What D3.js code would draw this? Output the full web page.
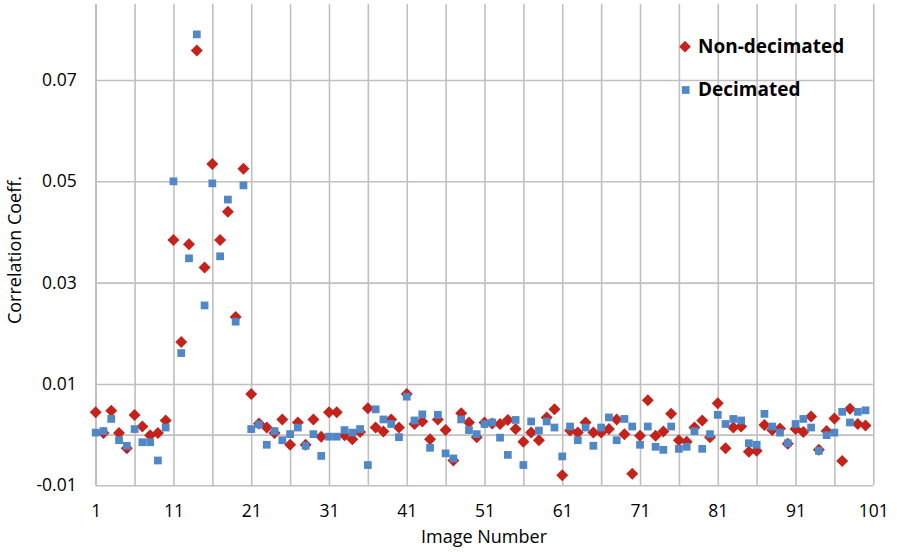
<!DOCTYPE html>
<html>
<head>
<meta charset="utf-8">
<script src="https://cdn.jsdelivr.net/npm/d3@7"></script>
<style>
  body { margin: 0; background: #fff; }
  text { font-family: "Open Sans", "DejaVu Sans", sans-serif; fill: #000; }
</style>
</head>
<body>
<div id="chart"></div>
<script>
// Chart data
const imageNumbers = d3.range(1, 101);

const nonDecimated = [
  0.0044, 0.0003, 0.0047, 0.0003, -0.0027, 0.0039, 0.0016, -0.0001, 0.0003, 0.0028,
  0.0384, 0.0183, 0.0376, 0.0758, 0.0330, 0.0534, 0.0384, 0.0440, 0.0232, 0.0525,
  0.0080, 0.0022, 0.0014, 0.0003, 0.0030, -0.0020, 0.0024, -0.0020, 0.0030, -0.0004,
  0.0044, 0.0044, -0.0001, -0.0009, 0.0005, 0.0052, 0.0014, 0.0006, 0.0030, 0.0014,
  0.0080, 0.0021, 0.0026, -0.0009, 0.0030, 0.0009, -0.0051, 0.0042, 0.0024, -0.0005,
  0.0024, 0.0022, 0.0021, 0.0029, 0.0011, -0.0014, 0.0004, -0.0011, 0.0034, 0.0050,
  -0.0080, 0.0008, 0.0004, 0.0024, 0.0004, 0.0004, 0.0011, 0.0030, 0.0001, -0.0077,
  -0.0002, 0.0068, -0.0002, 0.0006, 0.0041, -0.0011, -0.0014, 0.0014, 0.0028, -0.0005,
  0.0062, -0.0027, 0.0014, 0.0016, -0.0034, -0.0032, 0.0019, 0.0009, 0.0012, -0.0018,
  0.0011, 0.0005, 0.0036, -0.0030, 0.0007, 0.0032, -0.0052, 0.0051, 0.0021, 0.0018
];

const decimated = [
  0.0004, 0.0007, 0.0031, -0.0011, -0.0022, 0.0011, -0.0015, -0.0015, -0.0051, 0.0014,
  0.0500, 0.0161, 0.0348, 0.0790, 0.0255, 0.0496, 0.0352, 0.0464, 0.0223, 0.0492,
  0.0011, 0.0020, -0.0020, 0.0007, -0.0011, 0.0001, 0.0014, -0.0022, 0.0001, -0.0042,
  -0.0004, -0.0004, 0.0009, 0.0004, 0.0011, -0.0060, 0.0050, 0.0030, 0.0021, -0.0005,
  0.0075, 0.0028, 0.0040, -0.0026, 0.0039, -0.0037, -0.0047, 0.0030, 0.0009, 0.0001,
  0.0021, 0.0024, -0.0006, -0.0040, 0.0029, -0.0060, 0.0026, 0.0008, 0.0026, 0.0014,
  -0.0043, 0.0016, -0.0011, 0.0014, -0.0022, 0.0014, 0.0034, -0.0011, 0.0031, 0.0016,
  -0.0020, 0.0016, -0.0024, -0.0030, 0.0016, -0.0028, -0.0024, 0.0007, -0.0028, 0.0001,
  0.0039, 0.0021, 0.0031, 0.0028, -0.0017, -0.0020, 0.0041, 0.0016, 0.0004, -0.0017,
  0.0021, 0.0031, 0.0014, -0.0032, -0.0001, 0.0004, 0.0045, 0.0024, 0.0045, 0.0048
];

const xGridTicks = d3.range(1, 102, 5);
const xLabelTicks = [1, 11, 21, 31, 41, 51, 61, 71, 81, 91, 101];
const yLabelTicks = [-0.01, 0.01, 0.03, 0.05, 0.07];
const seriesNames = ["Non-decimated", "Decimated"];

// Dimensions
const width = 897,
      height = 552;
const plotLeft = 95.7, plotRight = 873.3, plotTop = 4, plotBottom = 485.3;

const svg = d3.select("#chart").append("svg")
    .attr("width", width)
    .attr("height", height);

const x = d3.scaleLinear().domain([1, 101]).range([plotLeft, plotRight]);
const y = d3.scaleLinear().domain([-0.01, 0.085]).range([plotBottom, plotTop]);

const gridColor = "#c0c0c0";
const red = "#c4221b";
const blue = "#4f87c7";

// Vertical gridlines every 5 images
svg.append("g")
    .attr("transform", `translate(0,${plotBottom})`)
    .call(d3.axisBottom(x).tickValues(xGridTicks).tickSize(-(plotBottom - plotTop)).tickFormat(""))
    .call(g => g.select(".domain").remove())
    .selectAll("line")
    .attr("stroke", gridColor)
    .attr("stroke-width", 1.6);

// Horizontal gridlines (plus the zero line)
svg.append("g")
    .attr("transform", `translate(${plotLeft},0)`)
    .call(d3.axisLeft(y).tickValues(yLabelTicks.concat([0])).tickSize(-(plotRight - plotLeft)).tickFormat(""))
    .call(g => g.select(".domain").remove())
    .selectAll("line")
    .attr("stroke", gridColor)
    .attr("stroke-width", 1.6);

// Left axis line
svg.append("line")
    .attr("x1", plotLeft).attr("x2", plotLeft)
    .attr("y1", plotTop).attr("y2", plotBottom)
    .attr("stroke", gridColor)
    .attr("stroke-width", 1.6);

// X tick labels
svg.append("g")
    .attr("transform", `translate(0,${plotBottom})`)
    .call(d3.axisBottom(x).tickValues(xLabelTicks).tickSize(0).tickPadding(19).tickFormat(d3.format("d")))
    .call(g => g.select(".domain").remove())
    .selectAll("text")
    .attr("fill", "#000")
    .style("font-size", "17.5px")
    .style("font-family", "'Open Sans', sans-serif");

// Y tick labels
svg.append("g")
    .attr("transform", `translate(${plotLeft},0)`)
    .call(d3.axisLeft(y).tickValues(yLabelTicks).tickSize(0).tickPadding(19))
    .call(g => g.select(".domain").remove())
    .selectAll("text")
    .attr("fill", "#000")
    .text(d => d3.format(".2f")(d).replace("\u2212", "-"))
    .style("font-size", "17.5px")
    .style("font-family", "'Open Sans', sans-serif");

// Axis titles
svg.append("text")
    .attr("x", 484)
    .attr("y", 543)
    .attr("text-anchor", "middle")
    .style("font-size", "18px")
    .text("Image Number");

svg.append("text")
    .attr("transform", "translate(21,250) rotate(-90)")
    .attr("text-anchor", "middle")
    .style("font-size", "18px")
    .text("Correlation Coeff.");

// Markers: red diamonds first, blue squares drawn on top
const diamond = d3.symbol().type(d3.symbolSquare).size(72);
const square = d3.symbol().type(d3.symbolSquare).size(60);

svg.append("g")
    .selectAll("path")
    .data(imageNumbers.map((n, i) => [n, nonDecimated[i]]))
    .enter().append("path")
    .attr("d", diamond)
    .attr("transform", d => `translate(${x(d[0])},${y(d[1])}) rotate(45)`)
    .attr("fill", red);

svg.append("g")
    .selectAll("path")
    .data(imageNumbers.map((n, i) => [n, decimated[i]]))
    .enter().append("path")
    .attr("d", square)
    .attr("transform", d => `translate(${x(d[0])},${y(d[1])})`)
    .attr("fill", blue);

// Legend
const legend = svg.append("g").attr("class", "legend");

legend.append("path")
    .attr("d", d3.symbol().type(d3.symbolSquare).size(68))
    .attr("transform", "translate(685,46.7) rotate(45)")
    .attr("fill", red);
legend.append("text")
    .attr("x", 698)
    .attr("y", 53.3)
    .style("font-size", "19px")
    .style("font-weight", "bold")
    .text(seriesNames[0]);

legend.append("path")
    .attr("d", d3.symbol().type(d3.symbolSquare).size(60))
    .attr("transform", "translate(685.7,90)")
    .attr("fill", blue);
legend.append("text")
    .attr("x", 698)
    .attr("y", 96)
    .style("font-size", "19px")
    .style("font-weight", "bold")
    .text(seriesNames[1]);
</script>
</body>
</html>
